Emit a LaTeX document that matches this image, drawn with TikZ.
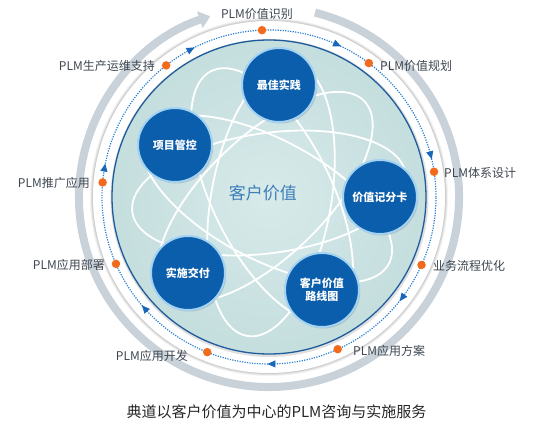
\documentclass[tikz,border=0pt]{standalone}
\usepackage{fontspec}
\newfontfamily\cjk{Noto Sans CJK SC}
\usetikzlibrary{arrows.meta,shadows}
\definecolor{tealc}{HTML}{D8EAEA}
\definecolor{tealm}{HTML}{C2DCDC}
\definecolor{teale}{HTML}{9EC6C6}
\definecolor{diskborder}{HTML}{1F5C9C}
\definecolor{nodeblue}{HTML}{0B5EAB}
\definecolor{nodeedge}{HTML}{A4D2F2}
\definecolor{dotblue}{HTML}{2A80D0}
\definecolor{markblue}{HTML}{1A66B8}
\definecolor{orangedot}{HTML}{F26B1D}
\definecolor{grayarc}{HTML}{C9D1D9}
\definecolor{labelgray}{HTML}{3D4650}
\definecolor{centertext}{HTML}{3D7FB8}
\pgfdeclareradialshading{tealdisk}{\pgfpoint{0bp}{0bp}}{color(0bp)=(tealc); color(28bp)=(tealm); color(46bp)=(teale); color(50bp)=(teale!90!black)}
\begin{document}
\begin{tikzpicture}[x=1pt,y=1pt,
  valnode/.style={circle, fill=nodeblue, draw=nodeedge, line width=2pt, minimum size=74pt, inner sep=0pt,
    text=white, font=\cjk\bfseries\fontsize{11}{13}\selectfont, align=center,
    drop shadow={shadow xshift=1.2pt, shadow yshift=-1.5pt, opacity=0.35}},
  odot/.style={circle, fill=orangedot, inner sep=0pt, minimum size=8.5pt},
  lbl/.style={text=labelgray, font=\cjk\fontsize{12}{14}\selectfont, inner sep=0pt},
  loopline/.style={draw=white, line width=1.8pt},
  marker/.style={fill=markblue}
]
\useasboundingbox (-269,-226) rectangle (267,197);
% gray outer arc with arrow
\draw[grayarc, line width=8pt, -{Triangle[width=17pt,length=11pt]}] (76:190) arc[start angle=76, end angle=-252, radius=190];
% white ring with soft shadow
\foreach \r/\o in {179/0.05,178/0.07,177/0.09}{\fill[black,opacity=\o] (0,0) circle[radius=\r];}
\fill[white] (0,0) circle[radius=176];
% dotted circle
\draw[dotblue, line width=1.2pt, dash pattern=on 1.2pt off 1.3pt] (0,0) circle[radius=167];
% markers (clockwise direction)
\foreach \a in {118,66,14.6,-37,-89,-138,170}{
  \fill[marker, shift={(\a:167)}, rotate=\a-90] (4.5,0) -- (-3.5,3.6) -- (-3.5,-3.6) -- cycle;}
% teal disk
\fill[black,opacity=0.12] (0.5,-1) circle[radius=159];
\shade[shading=tealdisk] (0,0) circle[radius=157];
\begin{scope}
\clip (0,0) circle[radius=156];
\foreach \t/\dx/\dy in {8/0/4,44/-4/0,80/2/-3,116/3/2,152/-2/-2}{
  \draw[loopline] (\dx,\dy) ellipse[x radius=138, y radius=60, rotate=\t];}
\end{scope}
\draw[diskborder, line width=1.3pt] (0,0) circle[radius=157];
% center text
\node[text=centertext, font=\cjk\fontsize{17}{20}\selectfont] (center) at (-6,4) {客户价值};
% inner value circles
\node[valnode] (best) at (10,112) {最佳实践};
\node[valnode] (proj) at (-94,52) {项目管控};
\node[valnode] (score) at (111,0) {价值记分卡};
\node[valnode] (deliv) at (-81,-76) {实施交付};
\node[valnode] (road) at (53,-93) {客户价值\\路线图};
% orange dots
\node[odot] (d1) at (92.4:167) {};
\node[odot] (d2) at (53.3:167) {};
\node[odot] (d3) at (8.7:167) {};
\node[odot] (d4) at (-24:167) {};
\node[odot] (d5) at (-65.7:167) {};
\node[odot] (d6) at (-111.7:167) {};
\node[odot] (d7) at (-156.4:167) {};
\node[odot] (d8) at (175:167) {};
\node[odot] (d9) at (128:167) {};
% labels
\node[lbl] (l1) at (-12,183) {PLM价值识别};
\node[lbl, anchor=west] (l2) at (111,131) {PLM价值规划};
\node[lbl, anchor=west] (l3) at (175,24) {PLM体系设计};
\node[lbl, anchor=west] (l4) at (164,-69) {业务流程优化};
\node[lbl, anchor=west] (l5) at (84,-154) {PLM应用方案};
\node[lbl, anchor=east] (l6) at (-81,-159) {PLM应用开发};
\node[lbl, anchor=east] (l7) at (-164,-68) {PLM应用部署};
\node[lbl, anchor=east] (l8) at (-179,14) {PLM推广应用};
\node[lbl, anchor=east] (l9) at (-114,131) {PLM生产运维支持};
% caption
\node[text=black!85, font=\cjk\fontsize{15}{18}\selectfont] (caption) at (7.5,-215) {典道以客户价值为中心的PLM咨询与实施服务};
\end{tikzpicture}
\end{document}
